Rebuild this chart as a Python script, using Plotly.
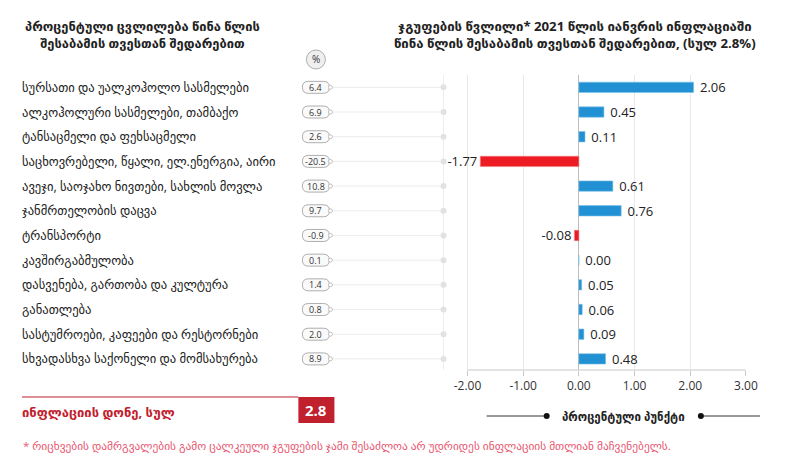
import plotly.graph_objects as go

categories = [
    "სურსათი და უალკოჰოლო სასმელები",
    "ალკოჰოლური სასმელები, თამბაქო",
    "ტანსაცმელი და ფეხსაცმელი",
    "საცხოვრებელი, წყალი, ელ.ენერგია, აირი",
    "ავეჯი, საოჯახო ნივთები, სახლის მოვლა",
    "ჯანმრთელობის დაცვა",
    "ტრანსპორტი",
    "კავშირგაბმულობა",
    "დასვენება, გართობა და კულტურა",
    "განათლება",
    "სასტუმროები, კაფეები და რესტორნები",
    "სხვადასხვა საქონელი და მომსახურება",
]
annual_change = [6.4, 6.9, 2.6, -20.5, 10.8, 9.7, -0.9, 0.1, 1.4, 0.8, 2.0, 8.9]
contribution = [2.06, 0.45, 0.11, -1.77, 0.61, 0.76, -0.08, 0.00, 0.05, 0.06, 0.09, 0.48]
total_inflation = 2.8
x_ticks = [-2, -1, 0, 1, 2, 3]

title_left = "პროცენტული ცვლილება წინა წლის<br>შესაბამის თვესთან შედარებით"
title_right = "ჯგუფების წვლილი* 2021 წლის იანვრის ინფლაციაში<br>წინა წლის შესაბამის თვესთან შედარებით, (სულ 2.8%)"
total_label = "ინფლაციის დონე, სულ"
unit_label = "პროცენტული პუნქტი"
footnote = "* რიცხვების დამრგვალების გამო ცალკეული ჯგუფების ჯამი შესაძლოა არ უდრიდეს ინფლაციის მთლიან მაჩვენებელს."

# the snapshot comes out squeezed to ~98.4% horizontally, so the page is laid
# out a bit wider; all positions below are in target-picture pixels (800 x 465)
W, H = 800, 465
PAGE_W = 813
FONT = "Open Sans, DejaVu Sans, sans-serif"
BLUE = "#2291d3"
RED = "#ed1c24"
DARK_RED = "#c1202d"

rows = list(range(len(categories)))
row_px = 24.7  # px per category row


def px(x):
    return x / W


def py(y):
    return 1 - y / H


def note(x, y, text, size, color="#222", xanchor="center", yref="paper", **kw):
    return dict(xref="paper", yref=yref, x=px(x), y=py(y) if yref == "paper" else y,
                text=text, showarrow=False, xanchor=xanchor, yanchor="middle",
                font=dict(size=size, color=color, family=FONT), **kw)


fig = go.Figure()

# nbsp keeps positive labels a bit away from the bar end, like the original
bar_text = [("\u00a0" + f"{v:.2f}") if v >= 0 else f"{v:.2f}" for v in contribution]
fig.add_trace(go.Bar(
    x=contribution, y=rows, orientation="h", width=0.42,
    marker=dict(color=[BLUE if v >= 0 else RED for v in contribution],
                line=dict(color=["#7cc0ea" if v >= 0 else "#f47c80" for v in contribution], width=0.6)),
    text=bar_text, textposition="outside", constraintext="none",
    textfont=dict(size=13, color="#222", family=FONT), cliponaxis=False,
    hoverinfo="skip",
))

shapes = []
annotations = []

# vertical line at the left edge of the bar panel + x-axis baseline
shapes.append(dict(type="line", xref="paper", yref="y", x0=px(443), x1=px(443), y0=-0.5, y1=11.45,
                   line=dict(color="#eeeeee", width=1), layer="below"))
shapes.append(dict(type="line", xref="x", yref="paper", x0=-2, x1=3, y0=py(370), y1=py(370),
                   line=dict(color="#c8c8c8", width=1)))

# pills with annual change, connector lines and dots
x0, x1, r = 302, 329, 6
h = 6 / row_px
for i, v in zip(rows, annual_change):
    shapes.append(dict(type="line", xref="paper", yref="y", x0=px(331), x1=px(443), y0=i, y1=i,
                       line=dict(color="#ececec", width=1), layer="below"))
    path = (f"M {px(x0 + r)},{i - h} L {px(x1 - r)},{i - h} Q {px(x1)},{i - h} {px(x1)},{i} "
            f"Q {px(x1)},{i + h} {px(x1 - r)},{i + h} L {px(x0 + r)},{i + h} Q {px(x0)},{i + h} {px(x0)},{i} "
            f"Q {px(x0)},{i - h} {px(x0 + r)},{i - h} Z")
    shapes.append(dict(type="path", xref="paper", yref="y", path=path,
                       fillcolor="#fafafa", line=dict(color="#9a9a9a", width=0.8)))
    shapes.append(dict(type="circle", xref="paper", yref="y", x0=px(328), x1=px(332),
                       y0=i - 2 / row_px, y1=i + 2 / row_px,
                       fillcolor="white", line=dict(color="#aaa", width=0.7)))
    shapes.append(dict(type="circle", xref="paper", yref="y", x0=px(440), x1=px(446),
                       y0=i - 3 / row_px, y1=i + 3 / row_px,
                       fillcolor="#e2e2e2", line=dict(width=0)))
    annotations.append(note((x0 + x1) / 2, i, f"{v:.1f}", 9, "#333", yref="y"))
    annotations.append(note(20, i, categories[i], 12.6, "#222", xanchor="left", yref="y"))

# "%" badge
shapes.append(dict(type="circle", xref="paper", yref="paper",
                   x0=px(306), x1=px(325), y0=py(69), y1=py(50),
                   fillcolor="#efefef", line=dict(color="#9a9a9a", width=0.8)))
annotations.append(note(315.5, 59.5, "%", 10, "#333"))

# titles
annotations.append(note(142, 34, f"<b>{title_left}</b>", 12.9, align="center"))
annotations.append(note(574, 34, f"<b>{title_right}</b>", 13.2, align="center"))

# total inflation block
shapes.append(dict(type="line", xref="paper", yref="paper", x0=px(22), x1=px(298), y0=py(397), y1=py(397),
                   line=dict(color=DARK_RED, width=1.2)))
shapes.append(dict(type="rect", xref="paper", yref="paper", x0=px(298), x1=px(334), y0=py(423), y1=py(397),
                   fillcolor=DARK_RED, line=dict(width=0)))
annotations.append(note(20, 412, f"<b>{total_label}</b>", 13, DARK_RED, xanchor="left"))
annotations.append(note(316, 410, f"<b>{total_inflation}</b>", 15, "white"))

# unit legend under the axis
shapes.append(dict(type="line", xref="paper", yref="paper", x0=px(486), x1=px(546), y0=py(416), y1=py(416),
                   line=dict(color="#333", width=1)))
shapes.append(dict(type="line", xref="paper", yref="paper", x0=px(700), x1=px(759), y0=py(416), y1=py(416),
                   line=dict(color="#333", width=1)))
for cx in (546, 700):
    shapes.append(dict(type="circle", xref="paper", yref="paper", x0=px(cx - 3), x1=px(cx + 3),
                       y0=py(419), y1=py(413), fillcolor="#111", line=dict(width=0)))
annotations.append(note(623, 416, f"<b>{unit_label}</b>", 11.5))

# footnote
annotations.append(note(21, 445, footnote, 11.4, "#e8566f", xanchor="left"))

fig.update_layout(
    width=PAGE_W, height=H,
    margin=dict(l=0, r=0, t=0, b=0),
    paper_bgcolor="white", plot_bgcolor="white",
    showlegend=False,
    font=dict(family=FONT, color="#333"),
    xaxis=dict(domain=[px(443), px(745)], range=[-2.43, 3.0], tickvals=x_ticks,
               ticktext=[f"{t:.2f}" for t in x_ticks], showgrid=True, gridcolor="#e8e8e8",
               zeroline=True, zerolinecolor="#bdbdbd", zerolinewidth=1,
               ticks="outside", ticklen=5, tickcolor="#c8c8c8", showline=False,
               tickfont=dict(size=12, color="#333"), fixedrange=True),
    yaxis=dict(domain=[py(370), py(75)], range=[11.45, -0.5], visible=False, fixedrange=True),
    shapes=shapes, annotations=annotations,
)

fig.write_html(
    "out.html",
    config={"displayModeBar": False},
    post_script="document.body.style.margin='0';document.body.style.overflow='hidden';"
                "document.documentElement.style.overflow='hidden';",
)
